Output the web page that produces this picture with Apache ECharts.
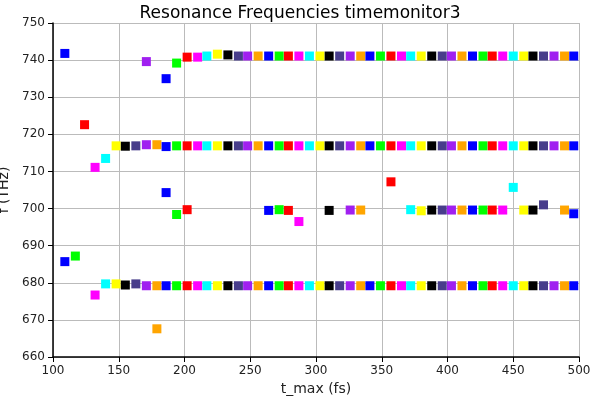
<!DOCTYPE html>
<html><head><meta charset="utf-8">
<script src="https://cdn.jsdelivr.net/npm/echarts@6/dist/echarts.min.js"></script>
<style>html,body{margin:0;padding:0;background:#fff}#c{width:600px;height:400px}</style>
</head><body><div id="c"></div>
<script>
const tmax=[109,117,124,132,140,148,155,163,171,179,186,194,202,210,217,225,233,241,248,256,264,272,279,287,295,303,310,318,326,334,341,349,357,365,372,380,388,396,403,411,419,427,434,442,450,458,465,473,481,489,496];
const colors=['#0000ff','#00ff00','#ff0000','#ff00ff','#00ffff','#ffff00','#000000','#483d8b','#a020f0','#ffa500'];
const N=null;
const mode1=[741.8,N,N,N,N,N,N,N,739.6,N,735,739.2,740.8,740.8,741.1,741.6,741.4,741.1,741.1,741.1,741.1,741.1,741.1,741.1,741.1,741.1,741.1,741.1,741.1,741.1,741.1,741.1,741.1,741.1,741.1,741.1,741.1,741.1,741.1,741.1,741.1,741.1,741.1,741.1,741.1,741.1,741.1,741.1,741.1,741.1,741.1];
const mode2=[N,N,722.6,711.1,713.5,716.9,716.8,716.9,717.2,717.2,716.7,716.9,716.9,716.9,716.9,716.9,716.9,716.9,716.9,716.9,716.9,716.9,716.9,716.9,716.9,716.9,716.9,716.9,716.9,716.9,716.9,716.9,716.9,716.9,716.9,716.9,716.9,716.9,716.9,716.9,716.9,716.9,716.9,716.9,716.9,716.9,716.9,716.9,716.9,716.9,716.9];
const mode3=[N,N,N,N,N,N,N,N,N,N,704.3,698.4,699.7,N,N,N,N,N,N,N,699.5,699.7,699.5,696.5,N,N,699.5,N,699.6,699.6,N,N,707.2,N,699.7,699.4,699.6,699.6,699.6,699.6,699.6,699.6,699.6,699.6,705.7,699.6,699.6,701.0,N,699.6,698.6];
const mode4=[685.7,687.2,N,676.7,679.7,679.7,679.4,679.7,679.2,679.2,679.2,679.2,679.2,679.2,679.2,679.2,679.2,679.2,679.2,679.2,679.2,679.2,679.2,679.2,679.2,679.2,679.2,679.2,679.2,679.2,679.2,679.2,679.2,679.2,679.2,679.2,679.2,679.2,679.2,679.2,679.2,679.2,679.2,679.2,679.2,679.2,679.2,679.2,679.2,679.2,679.2];
const mode5=[N,N,N,N,N,N,N,N,N,667.6,N,N,N,N,N,N,N,N,N,N,N,N,N,N,N,N,N,N,N,N,N,N,N,N,N,N,N,N,N,N,N,N,N,N,N,N,N,N,N,N,N];
const data=[];
[mode1,mode2,mode3,mode4,mode5].forEach(m=>m.forEach((v,i)=>{if(v!==null)data.push({value:[tmax[i],v],itemStyle:{color:colors[i%10],opacity:1}});}));
const font='DejaVu Sans';
const ax={axisLine:{lineStyle:{color:'#000',width:1.5}},axisTick:{length:5,lineStyle:{color:'#000'}},axisLabel:{color:'#222',fontFamily:font,fontSize:12},splitLine:{lineStyle:{color:'#bbb'}},nameTextStyle:{fontFamily:font,fontSize:14,color:'#222'}};
echarts.init(document.getElementById('c')).setOption({
 animation:false,
 title:{text:'Resonance Frequencies timemonitor3',left:'center',top:0,textStyle:{fontFamily:font,fontSize:17,fontWeight:'normal',color:'#000'}},
 grid:{left:53,right:21,top:23,bottom:43,containLabel:false,outerBoundsMode:'none'},
 xAxis:Object.assign({type:'value',min:100,max:500,interval:50,name:'t_max (fs)',nameLocation:'middle',nameGap:20},ax),
 yAxis:Object.assign({type:'value',min:660,max:750,interval:10,name:'f (THz)',nameLocation:'middle',nameGap:32},ax),
 series:[{type:'scatter',symbol:'rect',symbolSize:9,itemStyle:{opacity:1},data:data}]
});
</script></body></html>
